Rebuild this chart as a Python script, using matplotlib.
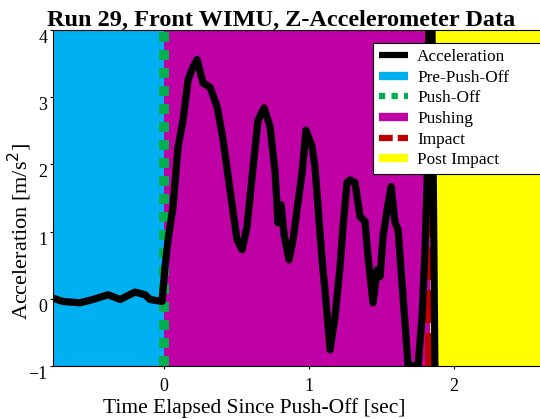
import matplotlib
matplotlib.use('Agg')
import matplotlib.pyplot as plt

# acceleration trace
timeArr = [-0.766, -0.697, -0.579, -0.490, -0.386, -0.303, -0.200, -0.131, -0.097,
           -0.014, 0.007, 0.028, 0.062, 0.097, 0.131, 0.166, 0.200, 0.228, 0.269,
           0.317, 0.366, 0.407, 0.455, 0.503, 0.538, 0.572, 0.614, 0.648, 0.690,
           0.731, 0.766, 0.786, 0.807, 0.828, 0.862, 0.890, 0.917, 0.952, 0.979,
           1.021, 1.041, 1.062, 1.090, 1.110, 1.145, 1.179, 1.214, 1.234, 1.262,
           1.283, 1.317, 1.352, 1.386, 1.407, 1.441, 1.469, 1.490, 1.510, 1.538,
           1.566, 1.593, 1.614, 1.641, 1.662, 1.683, 1.710, 1.752, 1.779, 1.800,
           1.814, 1.826, 1.848, 1.869]
accArr = [0.01, -0.04, -0.06, -0.01, 0.06, -0.01, 0.10, 0.06, -0.01,
          -0.04, 0.48, 0.88, 1.37, 2.26, 2.66, 3.26, 3.45, 3.56, 3.21,
          3.15, 2.86, 2.37, 1.62, 0.88, 0.73, 1.07, 1.96, 2.66, 2.84,
          2.56, 1.88, 1.13, 1.40, 0.95, 0.58, 0.88, 1.32, 1.88, 2.51,
          2.26, 1.96, 1.37, 0.58, 0.13, -0.76, -0.27, 0.48, 1.07, 1.73,
          1.77, 1.73, 1.22, 1.15, 0.63, -0.06, 0.43, 0.33, 0.92, 1.32,
          1.67, 1.13, 1.03, 0.24, -0.36, -1.0, -1.0, -1.0, -0.27, 0.73,
          1.73, 4.0, 4.0, -1.3]

tStart = -0.766
tEnd = 2.70
pushOffT = 0.0
impactT = 1.834

phaseNames = ['Pre-Push-Off', 'Pushing', 'Post Impact']
phaseEdges = [tStart, pushOffT, impactT, tEnd]
phaseColors = ['#00B0F0', '#BE00A5', '#FFFF00']

yTicks = [-1, 0, 1, 2, 3, 4]
xTicks = [0, 1, 2]

plt.rcParams['font.family'] = ['Liberation Serif', 'DejaVu Serif']

fig = plt.figure(figsize=(5.4, 4.19), dpi=100)
ax = fig.add_axes([0.0981, 0.1265, 0.9307, 0.8019])

for i in range(len(phaseNames)):
    ax.axvspan(phaseEdges[i], phaseEdges[i+1], color=phaseColors[i], lw=0, zorder=0)

ax.axvline(pushOffT, color='#00B050', lw=7.2, dashes=(1, 0.8), dash_capstyle='butt', zorder=2)
ax.axvline(impactT, color='#C00000', lw=7.2, dashes=(3.3, 1.0), dash_capstyle='butt', zorder=2)
ax.plot(timeArr, accArr, color='black', lw=5.2, solid_joinstyle='round', zorder=3)

ax.set_xlim(tStart, tEnd)
ax.set_ylim(-1, 4)
ax.set_xticks(xTicks)
ax.set_yticks(yTicks)
ax.tick_params(direction='out', length=2.5, width=0.8, labelsize=13)
ax.tick_params(axis='x', pad=6)
ax.tick_params(axis='y', pad=1.5)
for lab in ax.get_yticklabels():
    lab.set_va('top')
for side in ['left', 'top', 'bottom']:
    ax.spines[side].set_linewidth(0.8)
ax.spines['right'].set_visible(False)

fig.text(0.52, 0.938, 'Run 29, Front WIMU, Z-Accelerometer Data', fontsize=17.5,
         fontweight='bold', ha='center', va='baseline')
ax.set_xlabel('Time Elapsed Since Push-Off [sec]', fontsize=15.5)
ax.set_ylabel('Acceleration [m/s$^2$]', fontsize=16)
ax.xaxis.set_label_coords(0.40, -0.095)
ax.yaxis.set_label_coords(-0.038, 0.40)

handles = [
    plt.Line2D([], [], color='black', lw=4.5, solid_capstyle='butt'),
    plt.Line2D([], [], color=phaseColors[0], lw=6, solid_capstyle='butt'),
    plt.Line2D([], [], color='#00B050', lw=4.5, dashes=(1, 1), dash_capstyle='butt'),
    plt.Line2D([], [], color=phaseColors[1], lw=6, solid_capstyle='butt'),
    plt.Line2D([], [], color='#C00000', lw=4.5, dashes=(2.2, 0.8), dash_capstyle='butt'),
    plt.Line2D([], [], color=phaseColors[2], lw=6, solid_capstyle='butt'),
]
labels = ['Acceleration', 'Pre-Push-Off', 'Push-Off', 'Pushing', 'Impact', 'Post Impact']
leg = ax.legend(handles, labels, loc='upper left', bbox_to_anchor=(0.637, 0.0, 0.45, 0.962),
                mode='expand', borderaxespad=0, fontsize=12.4, handlelength=1.7,
                handletextpad=0.5, labelspacing=0.27, borderpad=0.35, fancybox=False,
                framealpha=1, edgecolor='black')
leg.get_frame().set_linewidth(0.8)

plt.savefig('out.png', dpi=100)
